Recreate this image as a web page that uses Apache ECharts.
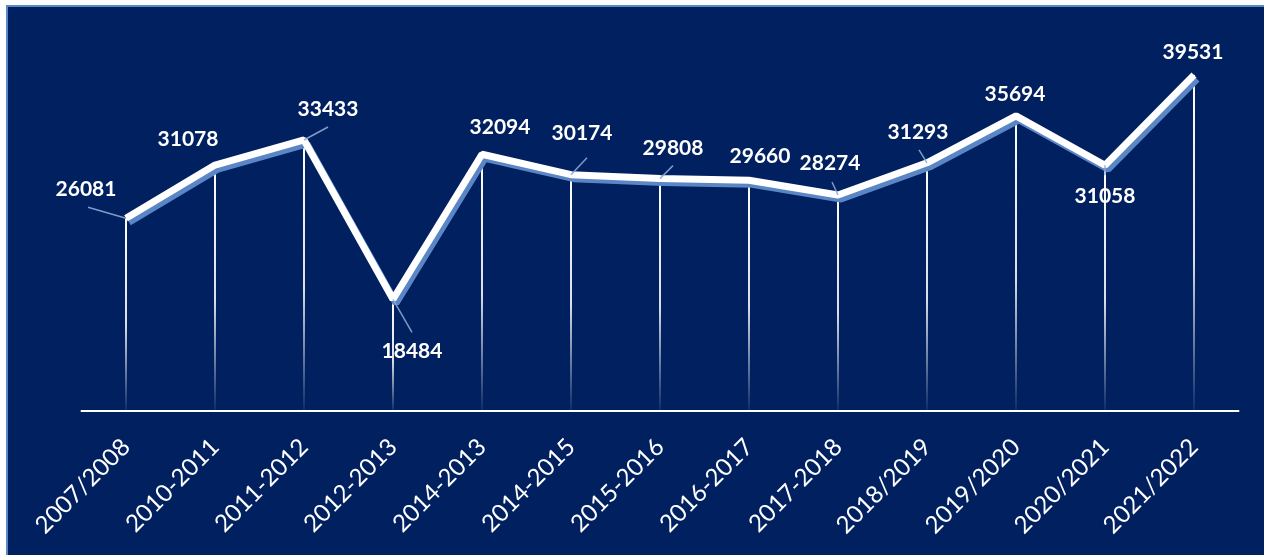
<!DOCTYPE html>
<html>
<head>
<meta charset="utf-8">
<script src="https://cdn.jsdelivr.net/npm/echarts@6/dist/echarts.min.js"></script>
<style>
  html, body { margin: 0; padding: 0; background: #fff; }
  #chart { width: 1264px; height: 555px; }
</style>
</head>
<body>
<div id="chart"></div>
<script>
'use strict';
var categories = ['2007/2008', '2010-2011', '2011-2012', '2012-2013', '2014-2013', '2014-2015',
    '2015-2016', '2016-2017', '2017-2018', '2018/2019', '2019/2020', '2020/2021', '2021/2022'];
var values = [26081, 31078, 33433, 18484, 32094, 30174, 29808, 29660, 28274, 31293, 35694, 31058, 39531];
// label shift from the default "top" spot, px
var labelShift = [[-40, -13], [-27, -10], [24, -15], [19, 68], [18, -11], [11, -25], [13, -14],
    [11, -8], [-8, -16], [-9, -15], [-1, -6], [0, 47], [-1, -7]];
// leader line end, px from the point (null = no leader)
var leaderEnd = [[-38, -11], null, [24, -13], [19, 33], null, [16, -17], [13, -13],
    null, [-6, -13], [-8, -13], null, [0, 10], null];

var Y_MIN = 8000, Y_MAX = 40000;

var chart = echarts.init(document.getElementById('chart'));

var pointData = values.map(function (v, i) { return [i, v]; });

var option = {
    animation: false,
    graphic: [{
        type: 'rect',
        z: -10,
        shape: { x: 7, y: 6, width: 1258, height: 550 },
        style: { fill: '#002060', stroke: '#5b89c8', lineWidth: 2 }
    }],
    grid: { left: 81.5, right: 25.5, top: 70, bottom: 144 },
    xAxis: {
        type: 'category',
        data: categories,
        axisLine: { lineStyle: { color: '#ffffff', width: 2 } },
        axisTick: { show: false },
        axisLabel: {
            rotate: 45,
            margin: 32,
            color: '#ffffff',
            fontFamily: 'Lato',
            fontSize: 24
        }
    },
    yAxis: {
        type: 'value',
        min: Y_MIN,
        max: Y_MAX,
        show: false,
        splitLine: { show: false }
    },
    series: [{
        // drop lines
        type: 'custom',
        z: 2,
        data: pointData,
        encode: { x: 0, y: 1 },
        renderItem: function (params, api) {
            var top = api.coord([api.value(0), api.value(1)]);
            var bottom = api.coord([api.value(0), Y_MIN]);
            return {
                type: 'line',
                shape: { x1: top[0], y1: top[1], x2: bottom[0], y2: bottom[1] },
                style: {
                    lineWidth: 2,
                    stroke: new echarts.graphic.LinearGradient(0, top[1], 0, bottom[1], [
                        { offset: 0, color: 'rgba(255,255,255,1)' },
                        { offset: 0.55, color: 'rgba(255,255,255,0.85)' },
                        { offset: 1, color: 'rgba(255,255,255,0.05)' }
                    ], true)
                }
            };
        }
    }, {
        // label leader lines
        type: 'custom',
        z: 4,
        data: pointData,
        encode: { x: 0, y: 1 },
        renderItem: function (params, api) {
            var e = leaderEnd[params.dataIndex];
            if (!e) return null;
            var p = api.coord([api.value(0), api.value(1)]);
            return {
                type: 'line',
                shape: { x1: p[0], y1: p[1], x2: p[0] + e[0], y2: p[1] + e[1] },
                style: { stroke: 'rgba(140,168,212,0.9)', lineWidth: 1.5 }
            };
        }
    }, {
        type: 'line',
        z: 3,
        data: values,
        symbol: 'circle',
        symbolSize: 1,
        itemStyle: { color: '#ffffff' },
        lineStyle: {
            color: '#ffffff',
            width: 7,
            shadowColor: '#5a86c6',
            shadowBlur: 0,
            shadowOffsetX: 3,
            shadowOffsetY: 4
        },
        label: {
            show: true,
            position: 'top',
            color: '#ffffff',
            fontFamily: 'Lato',
            fontWeight: 'bold',
            fontSize: 21
        },
        labelLayout: function (params) {
            var s = labelShift[params.dataIndex] || [0, 0];
            return { dx: s[0], dy: s[1] };
        }
    }]
};

chart.setOption(option);
</script>
</body>
</html>
